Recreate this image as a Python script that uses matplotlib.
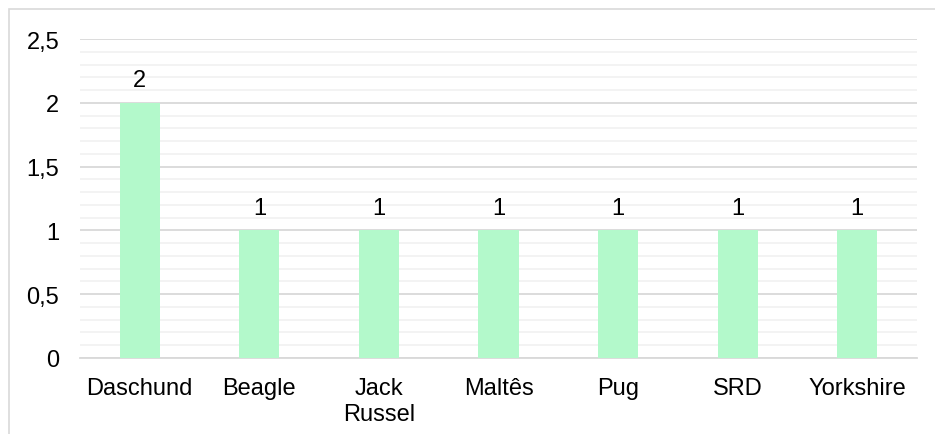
import matplotlib
matplotlib.use("Agg")
import matplotlib.pyplot as plt
from matplotlib.patches import Rectangle
from matplotlib.ticker import MultipleLocator, FuncFormatter

# Chart data
breeds = ["Daschund", "Beagle", "Jack\nRussel", "Maltês", "Pug", "SRD", "Yorkshire"]
counts = [2, 1, 1, 1, 1, 1, 1]

plt.rcParams["font.family"] = ["Liberation Sans", "DejaVu Sans"]

W, H = 935, 435
fig = plt.figure(figsize=(W / 100, H / 100), dpi=100)
ax = fig.add_axes([80 / W, 1 - 359 / H, (917 - 80) / W, (359 - 40) / H])

# light frame around the chart (only top/left visible in the reference)
fig.patches.append(Rectangle((9 / W, -0.2), 1.2, 1.2 - 10 / H, transform=fig.transFigure,
                             fill=False, edgecolor="#d9d9d9", linewidth=1.2))

x = range(len(breeds))
bars = ax.bar(x, counts, width=0.335, color="#b3f9cb", zorder=3)
for b, v in zip(bars, counts):
    ax.text(b.get_x() + b.get_width() / 2, v + 0.09, str(v), ha="center", va="bottom",
            fontsize=17, color="#000000")

ax.set_xlim(-0.5, len(breeds) - 0.5)
ax.set_ylim(0, 2.5)
ax.yaxis.set_major_locator(MultipleLocator(0.5))
ax.yaxis.set_minor_locator(MultipleLocator(0.1))
ax.yaxis.set_major_formatter(FuncFormatter(lambda v, p: f"{v:g}".replace(".", ",")))
ax.grid(axis="y", which="major", color="#d9d9d9", linewidth=1.3, zorder=0)
ax.grid(axis="y", which="minor", color="#f2f2f2", linewidth=1.3, zorder=0)

ax.set_xticks(list(x))
ax.set_xticklabels(breeds, fontsize=17, linespacing=1.2)
ax.tick_params(axis="y", which="both", length=0, labelsize=17, pad=15)
ax.tick_params(axis="x", length=0, pad=14)

for s in ["top", "right", "left"]:
    ax.spines[s].set_visible(False)
ax.spines["bottom"].set_color("#d9d9d9")
ax.spines["bottom"].set_linewidth(1.3)

fig.savefig("out.png", dpi=100)
